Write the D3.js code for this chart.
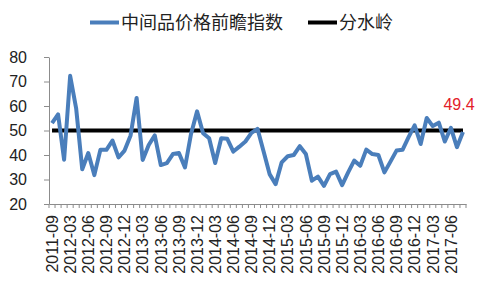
<!DOCTYPE html>
<html>
<head>
<meta charset="utf-8">
<script src="https://cdn.jsdelivr.net/npm/d3@7"></script>
<style>
  body { margin: 0; background: #fff; }
  svg { display: block; }
</style>
</head>
<body>
<div id="chart"></div>
<script>
// DATA
var months = [
  "2011-09", "2011-12", "2012-02",
  "2012-03", "2012-04", "2012-05", "2012-06", "2012-07", "2012-08", "2012-09", "2012-10", "2012-11", "2012-12",
  "2013-01", "2013-02", "2013-03", "2013-04", "2013-05", "2013-06", "2013-07", "2013-08", "2013-09", "2013-10", "2013-11", "2013-12",
  "2014-01", "2014-02", "2014-03", "2014-04", "2014-05", "2014-06", "2014-07", "2014-08", "2014-09", "2014-10", "2014-11", "2014-12",
  "2015-01", "2015-02", "2015-03", "2015-04", "2015-05", "2015-06", "2015-07", "2015-08", "2015-09", "2015-10", "2015-11", "2015-12",
  "2016-01", "2016-02", "2016-03", "2016-04", "2016-05", "2016-06", "2016-07", "2016-08", "2016-09", "2016-10", "2016-11", "2016-12",
  "2017-01", "2017-02", "2017-03", "2017-04", "2017-05", "2017-06", "2017-07", "2017-08"
]

var priceIndex = [
  53.0, 56.6, 38.1, 72.3, 58.9, 34.2, 40.8, 31.8, 42.1, 42.1,
  45.9, 39.0, 41.8, 48.0, 63.3, 38.0, 44.1, 48.0, 35.9, 36.7,
  40.4, 40.8, 34.9, 48.6, 57.8, 48.9, 46.8, 36.7, 46.8, 46.6,
  41.4, 43.4, 45.5, 49.0, 50.7, 41.5, 32.2, 28.1, 37.0, 39.5,
  40.0, 43.6, 40.4, 29.5, 31.2, 27.4, 32.2, 33.2, 27.7, 32.9,
  37.7, 35.6, 42.2, 40.4, 40.0, 32.9, 37.3, 41.8, 42.1, 47.3,
  52.1, 44.5, 55.1, 51.8, 53.2, 45.5, 51.1, 43.2, 49.4
]

var threshold = 50
var yTicks = [20, 30, 40, 50, 60, 70, 80]
var seriesNames = ["中间品价格前瞻指数", "分水岭"]

// DIMENSIONS
var svgWidth = 480
var svgHeight = 287

var svg = d3.select("#chart").append("svg")
    .attr("width", svgWidth)
    .attr("height", svgHeight)
    .style("font-family", "'Liberation Sans', Arial, sans-serif");

var x = d3.scaleBand().domain(months).range([49, 466])
var y = d3.scaleLinear().domain([20, 80]).range([204, 57])
var cx = d => x(d) + x.bandwidth() / 2

var axisColor = "#8c8c8c"

// y axis
var yAxis = d3.axisLeft(y).tickValues(yTicks).tickSize(5).tickSizeOuter(0).tickPadding(17)
var yg = svg.append("g").attr("transform", "translate(49,0)").call(yAxis)
yg.select(".domain").attr("stroke", axisColor)
yg.selectAll(".tick line").attr("stroke", axisColor)
yg.selectAll(".tick text")
    .attr("fill", "#222")
    .style("font-size", "16px")

// x axis, labels every third month
var labelMonths = months.filter((d, i) => i % 3 == 0)
var xAxis = d3.axisBottom(x).tickValues(labelMonths).tickSize(0).tickSizeOuter(0)
var xg = svg.append("g").attr("transform", "translate(0,204)").call(xAxis)
xg.select(".domain").attr("stroke", axisColor)
xg.selectAll(".tick text")
    .attr("transform", "rotate(-90)")
    .attr("text-anchor", "end")
    .attr("x", -11)
    .attr("y", 0)
    .attr("dy", "0.36em")
    .attr("fill", "#222")
    .style("font-size", "16px")

// small tick marks between the months
var edges = months.map(d => x(d)).concat([x.range()[1]])
svg.append("g").selectAll("line")
    .data(edges)
    .enter()
    .append("line")
    .attr("x1", d => d).attr("x2", d => d)
    .attr("y1", 204).attr("y2", 208)
    .attr("stroke", axisColor)

// 50 line
svg.append("line")
    .attr("x1", cx(months[0]))
    .attr("x2", cx(months[months.length - 1]))
    .attr("y1", y(threshold))
    .attr("y2", y(threshold))
    .attr("stroke", "#000")
    .attr("stroke-width", 4)

// index line
var line = d3.line()
    .x((d, i) => cx(months[i]))
    .y(d => y(d))

svg.append("path")
    .datum(priceIndex)
    .attr("d", line)
    .attr("fill", "none")
    .attr("stroke", "#4a7ebb")
    .attr("stroke-width", 4)
    .attr("stroke-linejoin", "round")

// last value label
var lastI = priceIndex.length - 1
svg.append("text")
    .attr("x", cx(months[lastI]) - 4)
    .attr("y", y(priceIndex[lastI]) - 22)
    .attr("text-anchor", "middle")
    .attr("fill", "#e3202a")
    .style("font-size", "16px")
    .text(priceIndex[lastI].toFixed(1))

// legend
var legend = svg.append("g").style("font-family", "'Noto Sans CJK SC', sans-serif")
var legendItems = [
    {name: seriesNames[0], color: "#4a7ebb", x0: 90},
    {name: seriesNames[1], color: "#000", x0: 308}
]
legendItems.forEach(function(item) {
    legend.append("line")
        .attr("x1", item.x0).attr("x2", item.x0 + 29)
        .attr("y1", 22.5).attr("y2", 22.5)
        .attr("stroke", item.color)
        .attr("stroke-width", 4)
    legend.append("text")
        .attr("x", item.x0 + 31)
        .attr("y", 22.5)
        .attr("dy", "0.35em")
        .attr("fill", "#222")
        .style("font-size", "18px")
        .text(item.name)
})
</script>
</body>
</html>
